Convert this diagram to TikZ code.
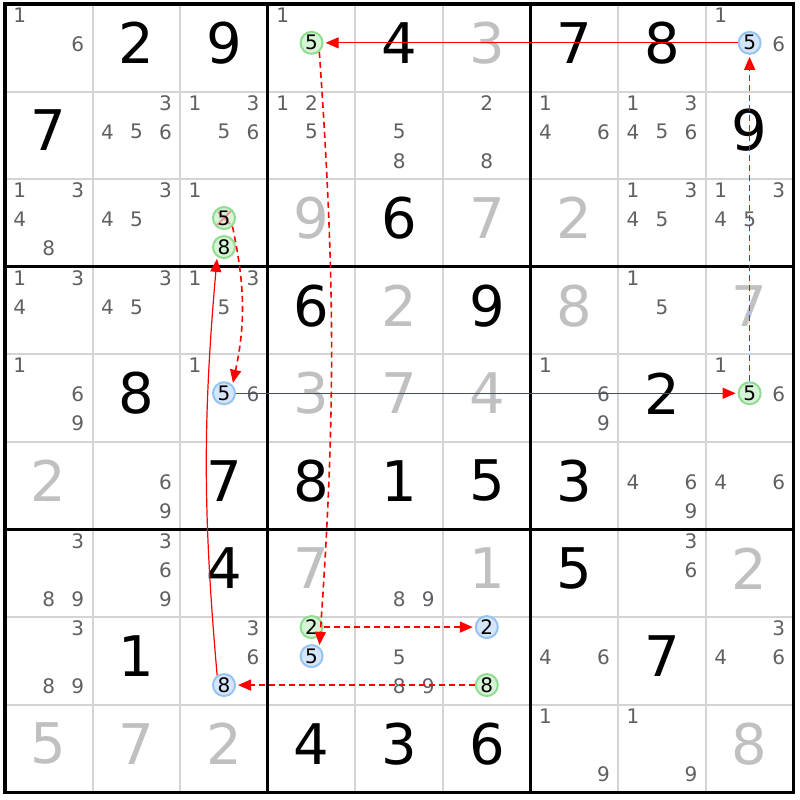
\documentclass[tikz,border=0pt]{standalone}
\usepackage{fontspec}
\setmainfont{DejaVu Sans}
\usetikzlibrary{arrows.meta}

\definecolor{candgray}{RGB}{95,95,100}
\definecolor{solvedgray}{RGB}{192,192,192}
\definecolor{thingrid}{RGB}{212,212,212}
\definecolor{ongreen}{RGB}{144,220,144}
\definecolor{ongreenfill}{RGB}{214,244,214}
\definecolor{offblue}{RGB}{150,196,240}
\definecolor{offbluefill}{RGB}{214,230,250}
\definecolor{crosspink}{RGB}{240,150,150}

\tikzset{
  given/.style={font=\fontsize{28}{30}\selectfont, text=black, inner sep=0pt},
  solved/.style={given, text=solvedgray},
  cand/.style={font=\fontsize{10}{11}\selectfont, text=candgray, inner sep=0pt},
  oncand/.style={circle, draw=ongreen, fill=ongreenfill, line width=1pt, minimum size=11pt, inner sep=0pt, font=\fontsize{10}{11}\selectfont},
  offcand/.style={oncand, draw=offblue, fill=offbluefill},
  strong/.style={draw=red, line width=0.6pt, -{Triangle[length=6.5pt,width=5.5pt]}, shorten >=1pt},
  weak/.style={strong, line width=0.8pt, dash pattern=on 3pt off 2pt},
}

\begin{document}
\begin{tikzpicture}[x=43.8pt, y=-43.8pt]
\useasboundingbox (-0.057,-0.046) rectangle (9.075,9.086);
\foreach \i in {1,2,4,5,7,8} {
  \draw[thingrid, line width=1pt] (\i,0) -- (\i,9);
  \draw[thingrid, line width=1pt] (0,\i) -- (9,\i);
}
\draw[line width=1.6pt] (3,0) -- (3,9) (6,0) -- (6,9) (0,3) -- (9,3) (0,6) -- (9,6);
\draw[line width=1.8pt] (0,0) rectangle (9,9);
% givens and solved cells
\foreach \r/\c/\d in {1/2/2, 1/3/9, 1/5/4, 1/7/7, 1/8/8, 2/1/7, 2/9/9, 3/5/6, 4/4/6, 4/6/9, 5/2/8, 5/8/2, 6/3/7, 6/4/8, 6/5/1, 6/6/5, 6/7/3, 7/3/4, 7/7/5, 8/2/1, 8/8/7, 9/4/4, 9/5/3, 9/6/6}
  \node[given] (v\r\c) at (\c-0.5, \r-0.557) {\d};
\foreach \r/\c/\d in {1/6/3, 3/4/9, 3/6/7, 3/7/2, 4/5/2, 4/7/8, 4/9/7, 5/4/3, 5/5/7, 5/6/4, 6/1/2, 7/4/7, 7/6/1, 7/9/2, 9/1/5, 9/2/7, 9/3/2, 9/9/8}
  \node[solved] (v\r\c) at (\c-0.5, \r-0.557) {\d};
% pencil marks
\foreach \r/\c/\ds in {1/1/{1,6}, 1/4/{1}, 1/9/{1,6}, 2/2/{3,4,5,6}, 2/3/{1,3,5,6}, 2/4/{1,2,5}, 2/5/{5,8}, 2/6/{2,8}, 2/7/{1,4,6}, 2/8/{1,3,4,5,6}, 3/1/{1,3,4,8}, 3/2/{3,4,5}, 3/3/{1}, 3/8/{1,3,4,5}, 3/9/{1,3,4,5}, 4/1/{1,3,4}, 4/2/{3,4,5}, 4/3/{1,3,5}, 4/8/{1,5}, 5/1/{1,6,9}, 5/3/{1,6}, 5/7/{1,6,9}, 5/9/{1,6}, 6/2/{6,9}, 6/8/{4,6,9}, 6/9/{4,6}, 7/1/{3,8,9}, 7/2/{3,6,9}, 7/5/{8,9}, 7/8/{3,6}, 8/1/{3,8,9}, 8/3/{3,6}, 8/5/{5,8,9}, 8/7/{4,6}, 8/9/{3,4,6}, 9/7/{1,9}, 9/8/{1,9}} {
  \foreach \k in \ds
    \node[cand] (c\r\c-\k) at ({\c-0.5+0.331*(mod(\k-1,3)-1)}, {\r-0.542+0.331*(floor((\k-1)/3)-1)}) {\k};
}
% chain candidates
\node[oncand] (r1c4) at (3.5, 0.443) {5};
\node[offcand] (r1c9) at (8.5, 0.443) {5};
\node[oncand, path picture={\draw[crosspink, line width=1pt, shorten <=3.5pt, shorten >=3.5pt] (path picture bounding box.north east) -- (path picture bounding box.south west) (path picture bounding box.north west) -- (path picture bounding box.south east);}] (r3c3a) at (2.5, 2.443) {5};
\node[oncand] (r3c3b) at (2.5, 2.774) {8};
\node[offcand] (r5c3) at (2.5, 4.443) {5};
\node[oncand] (r5c9) at (8.5, 4.443) {5};
\node[offcand] (r8c3) at (2.5, 7.774) {8};
\node[oncand] (r8c4a) at (3.5, 7.112) {2};
\node[offcand] (r8c4b) at (3.5, 7.443) {5};
\node[offcand] (r8c6a) at (5.5, 7.112) {2};
\node[oncand] (r8c6b) at (5.5, 7.774) {8};
% links
\draw[strong] (r1c9) -- (r1c4);
\draw[weak] (r1c4.-50) to[bend left=4] (r8c4b.50);
\draw[weak] (r8c4a) -- (r8c6a);
\draw[weak] (r8c6b) -- (r8c3);
\draw[strong] (r8c3.125) to[bend left=5] (r3c3b.235);
\draw[weak] (r3c3a.-45) to[bend left=12] (r5c3.45);
\draw[strong] (r5c3) -- (r5c9);
\draw[weak] (r5c9) -- (r1c9);
\end{tikzpicture}
\end{document}
